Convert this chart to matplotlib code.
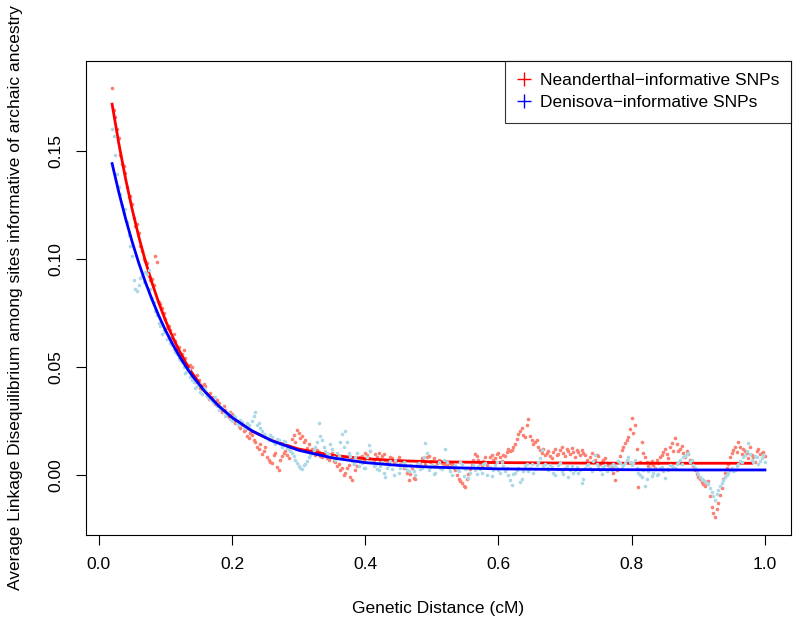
import numpy as np
import matplotlib
matplotlib.use("Agg")
import matplotlib.pyplot as plt
from matplotlib.lines import Line2D

plt.rcParams['font.family'] = ['Liberation Sans', 'DejaVu Sans']

# binned LD values, one per 0.005 cM from 0.02 to 1.00
nean_ld = [
    0.1790, 0.1655, 0.1560, 0.1440, 0.1395, 0.1285, 0.1255, 0.1150, 0.1120, 0.1035,
    0.0990, 0.0920, 0.0905, 0.1010, 0.0800, 0.0770, 0.0720, 0.0690, 0.0635, 0.0620,
    0.0590, 0.0560, 0.0540, 0.0480, 0.0500, 0.0430, 0.0440, 0.0395, 0.0410, 0.0350,
    0.0360, 0.0325, 0.0330, 0.0290, 0.0300, 0.0265, 0.0280, 0.0240, 0.0225, 0.0235,
    0.0205, 0.0170, 0.0185, 0.0150, 0.0120, 0.0095, 0.0130, 0.0070, 0.0054, 0.0100,
    0.0020, 0.0085, 0.0110, 0.0075, 0.0165, 0.0150, 0.0195, 0.0180, 0.0160, 0.0140,
    0.0120, 0.0090, 0.0105, 0.0080, 0.0095, 0.0070, 0.0100, 0.0060, 0.0050, 0.0030,
    0.0010, 0.0045, -0.0025, 0.0020, 0.0065, 0.0085, 0.0100, 0.0075, 0.0060, 0.0095,
    0.0100, 0.0085, 0.0070, 0.0060, 0.0075, 0.0055, 0.0080, 0.0065, 0.0045, -0.0025,
    0.0030, -0.0020, 0.0060, 0.0075, 0.0050, 0.0085, 0.0065, 0.0040, 0.0070, 0.0055,
    0.0060, 0.0035, 0.0050, 0.0020, -0.0020, -0.0040, -0.0057, 0.0005, 0.0045, 0.0095,
    0.0070, 0.0040, 0.0080, 0.0060, 0.0090, 0.0075, 0.0100, 0.0065, 0.0085, 0.0120,
    0.0115, 0.0140, 0.0190, 0.0215, 0.0175, 0.0258, 0.0160, 0.0150, 0.0130, 0.0100,
    0.0090, 0.0110, 0.0075, 0.0120, 0.0095, 0.0130, 0.0085, 0.0110, 0.0125, 0.0080,
    0.0105, 0.0115, 0.0090, 0.0053, 0.0100, 0.0070, 0.0085, 0.0060, 0.0075, 0.0045,
    0.0030, -0.0025, 0.0060, 0.0114, 0.0147, 0.0175, 0.0262, 0.0230, -0.0057, 0.0150,
    0.0080, 0.0040, 0.0065, 0.0030, 0.0055, 0.0090, 0.0120, 0.0075, 0.0145, 0.0170,
    0.0110, 0.0135, 0.0080, 0.0098, 0.0060, 0.0020, -0.0010, -0.0035, -0.0050, -0.0030,
    -0.0150, -0.0196, -0.0130, -0.0060, 0.0010, 0.0050, 0.0100, 0.0128, 0.0150, 0.0095,
    0.0110, 0.0075, 0.0090, 0.0060, 0.0120, 0.0100, 0.0085,
]
# the bins in between, 0.0225 to 0.9975
nean_ld_mid = [
    0.1690, 0.1600, 0.1480, 0.1430, 0.1330, 0.1290, 0.1190, 0.1160, 0.1060, 0.1000,
    0.0980, 0.0900, 0.0880, 0.0985, 0.0790, 0.0750, 0.0680, 0.0670, 0.0650, 0.0580,
    0.0555, 0.0575, 0.0500, 0.0510, 0.0445, 0.0460, 0.0400, 0.0420, 0.0365, 0.0380,
    0.0330, 0.0345, 0.0305, 0.0320, 0.0275, 0.0290, 0.0255, 0.0250, 0.0215, 0.0200,
    0.0180, 0.0195, 0.0160, 0.0130, 0.0140, 0.0110, 0.0080, 0.0060, 0.0090, 0.0035,
    0.0070, 0.0100, 0.0090, 0.0130, 0.0185, 0.0205, 0.0170, 0.0150, 0.0125, 0.0110,
    0.0105, 0.0115, 0.0085, 0.0100, 0.0075, 0.0085, 0.0065, 0.0040, 0.0020, 0.0000,
    0.0030, -0.0010, 0.0050, 0.0040, 0.0080, 0.0070, 0.0090, 0.0110, 0.0070, 0.0080,
    0.0065, 0.0095, 0.0055, 0.0080, 0.0060, 0.0070, 0.0050, 0.0030, 0.0010, 0.0005,
    -0.0015, 0.0040, 0.0055, 0.0065, 0.0080, 0.0060, 0.0075, 0.0055, 0.0065, 0.0050,
    0.0045, 0.0055, 0.0030, 0.0000, -0.0030, -0.0050, -0.0020, 0.0025, 0.0070, 0.0085,
    0.0055, 0.0065, 0.0045, 0.0080, 0.0070, 0.0095, 0.0080, 0.0090, 0.0105, 0.0110,
    0.0130, 0.0165, 0.0200, 0.0185, 0.0230, 0.0180, 0.0140, 0.0160, 0.0115, 0.0120,
    0.0100, 0.0085, 0.0105, 0.0090, 0.0115, 0.0100, 0.0120, 0.0095, 0.0105, 0.0115,
    0.0090, 0.0100, 0.0070, 0.0080, 0.0060, 0.0090, 0.0050, 0.0070, 0.0055, 0.0040,
    0.0010, 0.0020, 0.0085, 0.0130, 0.0160, 0.0210, 0.0195, 0.0120, 0.0060, 0.0100,
    0.0060, 0.0055, 0.0045, 0.0070, 0.0080, 0.0105, 0.0095, 0.0130, 0.0110, 0.0140,
    0.0120, 0.0100, 0.0110, 0.0070, 0.0040, 0.0005, -0.0020, -0.0045, -0.0040, -0.0100,
    -0.0175, -0.0160, -0.0095, -0.0020, 0.0030, 0.0080, 0.0115, 0.0105, 0.0130, 0.0120,
    0.0100, 0.0130, 0.0080, 0.0110, 0.0095, 0.0105,
]

deni_ld = [
    0.1600, 0.1480, 0.1330, 0.1250, 0.1230, 0.1110, 0.1010, 0.0860, 0.0880, 0.0920,
    0.0940, 0.0948, 0.0820, 0.0760, 0.0700, 0.0650, 0.0660, 0.0640, 0.0600, 0.0570,
    0.0540, 0.0520, 0.0470, 0.0490, 0.0440, 0.0400, 0.0420, 0.0375, 0.0390, 0.0360,
    0.0340, 0.0360, 0.0300, 0.0310, 0.0270, 0.0285, 0.0250, 0.0265, 0.0230, 0.0245,
    0.0215, 0.0230, 0.0250, 0.0290, 0.0240, 0.0200, 0.0180, 0.0160, 0.0175, 0.0140,
    0.0160, 0.0130, 0.0150, 0.0120, 0.0100, 0.0070, 0.0040, 0.0025, 0.0050, 0.0080,
    0.0100, 0.0130, 0.0240, 0.0160, 0.0110, 0.0090, 0.0120, 0.0070, 0.0085, 0.0190,
    0.0200, 0.0100, 0.0065, 0.0080, 0.0040, 0.0055, 0.0030, 0.0138, 0.0060, 0.0045,
    0.0020, 0.0060, -0.0010, 0.0045, 0.0025, 0.0070, 0.0010, 0.0050, 0.0035, 0.0015,
    0.0040, 0.0000, 0.0055, 0.0030, 0.0146, 0.0020, 0.0045, 0.0010, 0.0060, 0.0025,
    0.0120, 0.0030, 0.0000, 0.0045, 0.0015, 0.0050, 0.0025, -0.0015, 0.0035, 0.0020,
    0.0040, 0.0010, 0.0055, 0.0030, -0.0005, 0.0045, 0.0020, 0.0060, 0.0015, 0.0000,
    -0.0048, 0.0010, 0.0030, -0.0020, 0.0040, 0.0015, 0.0050, 0.0025, 0.0060, 0.0114,
    0.0050, 0.0020, 0.0035, 0.0000, 0.0045, 0.0015, 0.0030, -0.0010, 0.0040, 0.0020,
    0.0010, -0.0040, 0.0030, 0.0050, 0.0015, 0.0090, 0.0035, 0.0005, 0.0045, 0.0025,
    0.0020, 0.0040, 0.0065, 0.0030, 0.0055, 0.0080, 0.0045, 0.0070, 0.0010, -0.0010,
    -0.0050, 0.0015, -0.0005, 0.0025, 0.0005, 0.0035, -0.0015, 0.0020, 0.0040, 0.0030,
    0.0060, 0.0050, 0.0085, 0.0100, 0.0070, 0.0030, 0.0005, -0.0020, -0.0030, -0.0045,
    -0.0080, -0.0117, -0.0070, -0.0040, -0.0010, 0.0010, 0.0030, 0.0020, 0.0050, 0.0060,
    0.0090, 0.0147, 0.0070, 0.0085, 0.0050, 0.0075, 0.0060,
]
deni_ld_mid = [
    0.1570, 0.1390, 0.1300, 0.1210, 0.1170, 0.1060, 0.0900, 0.0850, 0.0910, 0.0890,
    0.0930, 0.0860, 0.0800, 0.0740, 0.0690, 0.0670, 0.0630, 0.0610, 0.0580, 0.0560,
    0.0530, 0.0500, 0.0480, 0.0450, 0.0430, 0.0410, 0.0385, 0.0400, 0.0365, 0.0350,
    0.0330, 0.0320, 0.0315, 0.0290, 0.0280, 0.0260, 0.0270, 0.0240, 0.0255, 0.0220,
    0.0240, 0.0210, 0.0270, 0.0230, 0.0215, 0.0190, 0.0170, 0.0185, 0.0150, 0.0165,
    0.0140, 0.0155, 0.0125, 0.0110, 0.0085, 0.0055, 0.0030, 0.0045, 0.0065, 0.0090,
    0.0115, 0.0150, 0.0180, 0.0130, 0.0100, 0.0140, 0.0080, 0.0100, 0.0150, 0.0130,
    0.0150, 0.0085, 0.0050, 0.0100, 0.0065, 0.0030, 0.0080, 0.0110, 0.0040, 0.0025,
    0.0040, 0.0010, 0.0030, 0.0065, 0.0000, 0.0050, 0.0030, 0.0060, 0.0020, 0.0045,
    0.0015, 0.0050, 0.0025, 0.0080, 0.0100, 0.0035, 0.0005, 0.0040, 0.0030, 0.0070,
    0.0060, 0.0015, 0.0040, 0.0025, 0.0060, -0.0005, 0.0030, 0.0010, 0.0045, 0.0005,
    0.0025, 0.0050, 0.0000, 0.0035, 0.0020, 0.0060, 0.0010, 0.0040, 0.0030, -0.0025,
    0.0005, 0.0020, -0.0035, 0.0015, 0.0050, 0.0030, 0.0010, 0.0045, 0.0075, 0.0040,
    0.0030, 0.0045, 0.0010, 0.0025, 0.0055, 0.0005, 0.0040, 0.0020, 0.0010, 0.0035,
    0.0020, -0.0020, 0.0045, 0.0030, 0.0065, 0.0050, 0.0020, 0.0035, 0.0015, 0.0040,
    0.0050, 0.0030, 0.0055, 0.0045, 0.0070, 0.0060, 0.0055, 0.0030, 0.0000, 0.0020,
    -0.0020, 0.0030, 0.0010, 0.0000, 0.0030, 0.0015, 0.0025, 0.0045, 0.0035, 0.0050,
    0.0070, 0.0080, 0.0095, 0.0060, 0.0045, 0.0015, -0.0010, -0.0025, -0.0040, -0.0060,
    -0.0100, -0.0090, -0.0050, -0.0025, 0.0000, 0.0020, 0.0015, 0.0040, 0.0065, 0.0080,
    0.0110, 0.0095, 0.0060, 0.0080, 0.0065, 0.0090,
]

# fitted exponential decay curves
fit_x = [0.02, 0.03, 0.04, 0.05, 0.06, 0.07, 0.08, 0.09, 0.10, 0.11, 0.12, 0.13,
         0.14, 0.16, 0.18, 0.20, 0.23, 0.26, 0.30, 0.35, 0.40, 0.45, 0.50, 0.60,
         0.70, 0.80, 0.90, 0.98]
nean_fit = [0.1715, 0.1534, 0.1373, 0.1230, 0.1102, 0.0988, 0.0887, 0.0796, 0.0715,
            0.0643, 0.0579, 0.0522, 0.0471, 0.0385, 0.0317, 0.0263, 0.0202, 0.0158,
            0.0119, 0.0090, 0.0074, 0.0065, 0.0060, 0.0056, 0.0054, 0.0053, 0.0053,
            0.0053]
deni_fit_x = fit_x[:-1] + [1.00]
deni_fit = [0.1440, 0.1308, 0.1188, 0.1079, 0.0980, 0.0891, 0.0810, 0.0736, 0.0669,
            0.0609, 0.0554, 0.0504, 0.0459, 0.0382, 0.0318, 0.0265, 0.0203, 0.0157,
            0.0113, 0.0078, 0.0056, 0.0043, 0.0035, 0.0027, 0.0024, 0.0023, 0.0022,
            0.0022]

nean_x = np.concatenate([np.linspace(0.02, 1.0, len(nean_ld)),
                         np.linspace(0.0225, 0.9975, len(nean_ld_mid))])
nean_y = np.concatenate([nean_ld, nean_ld_mid])
deni_x = np.concatenate([np.linspace(0.02, 1.0, len(deni_ld)),
                         np.linspace(0.0225, 0.9975, len(deni_ld_mid))])
deni_y = np.concatenate([deni_ld, deni_ld_mid])

fs = 12.5

fig = plt.figure(figsize=(8, 6.26), dpi=100)
ax = fig.add_axes([0.1075, 0.1454, 0.8813, 0.7572])

ax.plot(nean_x, nean_y, 'o', color='#FA8072', ms=2.6, mew=0)
ax.plot(fit_x, nean_fit, '-', color='red', lw=2.0)
ax.plot(deni_x, deni_y, 'o', color='#ADD8E6', ms=2.6, mew=0)
ax.plot(deni_fit_x, deni_fit, '-', color='blue', lw=2.0)

ax.set_xlim(-0.0192, 1.0392)
ax.set_ylim(-0.0279, 0.1915)
ax.set_xticks([0.0, 0.2, 0.4, 0.6, 0.8, 1.0])
ax.set_yticks([0.00, 0.05, 0.10, 0.15])
ax.set_xticklabels(['0.0', '0.2', '0.4', '0.6', '0.8', '1.0'])
ax.set_yticklabels(['0.00', '0.05', '0.10', '0.15'], rotation=90, va='center')
ax.tick_params(direction='out', length=7, width=0.8, labelsize=fs, pad=9)
for s in ax.spines.values():
    s.set_linewidth(0.8)

fig.text(0.548, 1 - 608 / 626, 'Genetic Distance (cM)', ha='center', va='center',
         fontsize=fs)
fig.text(0.019, 1 - 298 / 626,
         'Average Linkage Disequilibrium among sites informative of archaic ancestry',
         ha='center', va='center', rotation=90, fontsize=fs)

handles = [Line2D([], [], ls='', marker='+', color='red', ms=10, mew=1),
           Line2D([], [], ls='', marker='+', color='blue', ms=10, mew=1)]
leg = ax.legend(handles, ['Neanderthal\u2212informative SNPs',
                          'Denisova\u2212informative SNPs'],
                loc='upper right', borderaxespad=0, fancybox=False,
                fontsize=fs, handlelength=0.8, handletextpad=0.5,
                labelspacing=0.4, borderpad=0.7)
leg.get_frame().set_edgecolor('black')
leg.get_frame().set_linewidth(0.8)

fig.savefig('out.png', dpi=100)
